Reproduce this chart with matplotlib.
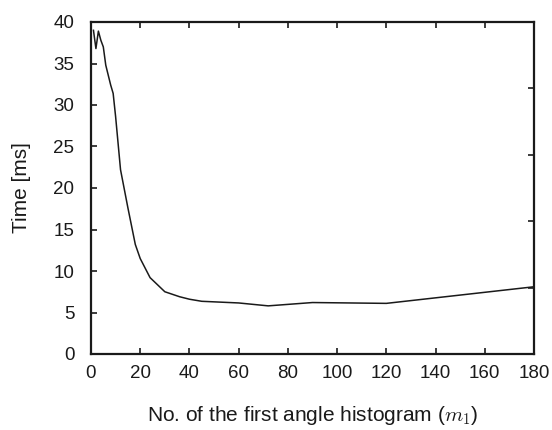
import matplotlib
matplotlib.use("Agg")
import matplotlib.pyplot as plt

m1 = [1, 2, 3, 4, 5, 6, 8, 9, 10, 12, 15, 18, 20, 24, 30, 36, 40, 45, 60, 72, 90, 120, 180]
time_ms = [39.0, 36.8, 38.9, 37.8, 37.0, 34.8, 32.4, 31.4, 28.6, 22.2, 17.6, 13.2, 11.5, 9.2,
           7.5, 6.9, 6.6, 6.35, 6.15, 5.8, 6.2, 6.1, 8.1]
x_ticks = [0, 20, 40, 60, 80, 100, 120, 140, 160, 180]
y_ticks = [0, 5, 10, 15, 20, 25, 30, 35, 40]
right_ticks = [0, 8, 16, 24, 32, 40]

plt.rcParams['font.family'] = ['Liberation Sans', 'DejaVu Sans']
plt.rcParams['mathtext.fontset'] = 'cm'

fig = plt.figure(figsize=(5.52, 4.30), dpi=100)
ax = fig.add_axes([91/552, 1-354/430, (534-91)/552, (354-22)/430])
ax.plot(m1, time_ms, color='#1a1a1a', linewidth=1.1)
ax.set_xlim(0, 180)
ax.set_ylim(0, 40)
ax.set_xticks(x_ticks)
ax.set_yticks(y_ticks)
ax.tick_params(direction='in', length=4, width=1.2, labelsize=13.5, top=True, right=False,
               colors='#1a1a1a', pad=8)
ax.tick_params(axis='y', pad=12)
for s in ax.spines.values():
    s.set_linewidth(1.6)
    s.set_color('#1a1a1a')

ax2 = ax.twinx()
ax2.set_ylim(0, 40)
ax2.set_yticks(right_ticks)
ax2.tick_params(direction='in', length=4, width=1.2, labelright=False, colors='#1a1a1a')
for s in ax2.spines.values():
    s.set_visible(False)

ax.set_xlabel(r'No. of the first angle histogram ($m_1$)', fontsize=15, labelpad=16, color='#1a1a1a')
ax.set_ylabel('Time [ms]', fontsize=15, labelpad=16, color='#1a1a1a')

fig.savefig('out.png', dpi=100)
